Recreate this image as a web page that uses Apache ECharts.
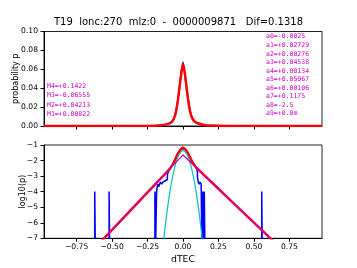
<!DOCTYPE html>
<html><head><meta charset="utf-8">
<script src="https://cdn.jsdelivr.net/npm/echarts@6/dist/echarts.min.js"></script>
<style>html,body{margin:0;padding:0;background:#fff}#c{width:357px;height:268px}</style>
</head><body><div id="c"></div>
<script>
// ---- data ----
const titleText = 'T19  lonc:270  mlz:0  -  0000009871   Dif=0.1318';
const aLabels = ['a0=-0.0025','a1=+0.02729','a2=+0.00276','a3=+0.04538','a4=+0.00134','a5=+0.05067','a6=+0.00106','a7=+0.1175','a8=-2.5','a9=+0.0m'];
const mLabels = ['M4=+0.1422','M3=-0.06555','M2=+0.04213','M1=+0.00822'];
const xTicks = [-0.75,-0.5,-0.25,0,0.25,0.5,0.75];

// model curve x positions (shared)
const xModel = [-0.98,-0.6,-0.3,-0.2,-0.15,-0.1,-0.0875,-0.075,-0.0625,-0.05,-0.0375,-0.025,-0.0125,0,0.0125,0.025,0.0375,0.05,0.0625,0.075,0.0875,0.1,0.15,0.2,0.3,0.6,0.98];
// top panel: model probability (red)
const pModel = [0,0,0.00003,0.00027,0.00082,0.00253,0.00346,0.00511,0.00837,0.01476,0.02566,0.04052,0.05555,0.0656,0.05603,0.04125,0.02651,0.01562,0.00919,0.00588,0.00415,0.00313,0.00113,0.00042,0.00006,0,0];
// bottom panel: log10 of model (red)
const logModel = [-11.09,-7.42,-4.53,-3.57,-3.09,-2.597,-2.461,-2.292,-2.077,-1.831,-1.591,-1.392,-1.255,-1.183,-1.252,-1.385,-1.577,-1.806,-2.037,-2.231,-2.382,-2.504,-2.945,-3.38,-4.25,-6.86,-10.17];

// gaussian part (cyan, log10)
const xGauss = [-0.15,-0.1375,-0.125,-0.1125,-0.1,-0.0875,-0.075,-0.0625,-0.05,-0.0375,-0.025,-0.0125,0,0.0125,0.025,0.0375,0.05,0.0625,0.075,0.0875,0.1,0.1125,0.125,0.1375,0.15];
const logGauss = [-8.32,-7.21,-6.20,-5.28,-4.46,-3.74,-3.11,-2.58,-2.14,-1.81,-1.56,-1.42,-1.37,-1.42,-1.56,-1.81,-2.14,-2.58,-3.11,-3.74,-4.46,-5.28,-6.20,-7.21,-8.32];

// laplace part (magenta, log10)
const xLap = [-0.98,0,0.98];
const logLap = [-11.09,-1.64,-10.17];

// histogram (blue) top panel, probability
const xHist = [-0.98,-0.2,-0.15,-0.1,-0.0875,-0.075,-0.0625,-0.05,-0.0375,-0.025,-0.0125,0,0.0125,0.025,0.0375,0.05,0.0625,0.075,0.0875,0.1,0.15,0.2,0.98];
const pHist = [0,0.0001,0.0004,0.0025,0.00355,0.0050,0.0089,0.0158,0.0263,0.0398,0.0562,0.0676,0.055,0.0398,0.0269,0.0158,0.0095,0.0063,0.0040,0.0028,0.0003,0,0];

// histogram (blue) bottom panel, log10 (empty bins drawn as -8, below axis)
const xHistLog = [-0.98,-0.622,-0.622,-0.618,-0.618,-0.521,-0.521,-0.517,-0.517,
  -0.198,-0.198,-0.194,-0.194,-0.186,-0.186,-0.182,-0.182,-0.177,-0.177,-0.172,-0.172,-0.165,-0.165,-0.158,-0.158,-0.15,-0.15,-0.142,-0.142,-0.133,-0.133,-0.125,-0.125,-0.117,-0.117,-0.11,-0.11,-0.104,-0.104,-0.098,
  -0.0875,-0.075,-0.0625,-0.05,-0.0375,-0.025,-0.0125,0,0.0125,0.025,0.0375,0.05,0.0625,0.075,0.0875,0.097,
  0.102,0.102,0.108,0.108,0.114,0.114,0.12,0.12,0.128,0.128,0.134,0.134,0.14,0.14,0.145,0.145,0.15,0.15,0.155,0.155,
  0.555,0.555,0.559,0.559,0.98];
const logHist = [-8,-8,-3.99,-3.99,-8,-8,-3.99,-3.99,-8,
  -8,-3.99,-3.99,-8,-8,-3.99,-3.99,-3.69,-3.69,-3.52,-3.52,-3.69,-3.69,-3.52,-3.52,-3.39,-3.39,-3.52,-3.52,-3.39,-3.39,-3.3,-3.3,-3.39,-3.39,-3.22,-3.22,-2.9,-2.9,-2.75,-2.6,
  -2.45,-2.30,-2.05,-1.80,-1.58,-1.40,-1.25,-1.17,-1.26,-1.40,-1.57,-1.80,-2.02,-2.20,-2.40,-2.55,
  -2.75,-3.1,-3.1,-3.39,-3.39,-3.52,-3.52,-3.39,-3.39,-3.52,-3.52,-8,-8,-3.99,-3.99,-8,-8,-3.99,-3.99,-8,
  -8,-3.99,-3.99,-8,-8];

const zip = (a,b)=>a.map((v,i)=>[v,b[i]]);
const minus = s => String(s).replace('-', '\u2212');
const FONT = 'DejaVu Sans';

const xBase = {
  type:'value', min:-0.98, max:0.98,
  axisLine:{show:true,onZero:false,lineStyle:{color:'#000',width:1}},
  axisTick:{show:true,length:3.5,customValues:xTicks,lineStyle:{color:'#000'}},
  splitLine:{show:false}
};
const yBase = {
  type:'value',
  axisLine:{show:true,onZero:false,lineStyle:{color:'#000'}},
  axisTick:{show:true,length:3.5,lineStyle:{color:'#000'}},
  splitLine:{show:false},
  nameLocation:'middle',nameRotate:90,nameMoveOverlap:false
};
const option = {
  animation:false,
  title:{text:titleText,left:'center',top:17,itemGap:0,
    textStyle:{fontFamily:FONT,fontSize:10,fontWeight:'normal',color:'#000'},padding:0},
  grid:[
    {left:44,top:31.5,width:278,height:94.5,show:true,borderColor:'#222',borderWidth:1,backgroundColor:'transparent'},
    {left:44,top:145,width:278,height:93.3,show:true,borderColor:'#222',borderWidth:1,backgroundColor:'transparent'}
  ],
  xAxis:[
    Object.assign({},xBase,{gridIndex:0,axisLabel:{show:false}}),
    Object.assign({},xBase,{gridIndex:1,
      axisLabel:{show:true,customValues:xTicks,margin:5,fontFamily:FONT,fontSize:7.6,color:'#000',
        formatter:v=>minus(v.toFixed(2))},
      name:'dTEC',nameLocation:'middle',nameGap:17,nameMoveOverlap:false,
      nameTextStyle:{fontFamily:FONT,fontSize:9.3,color:'#000'}})
  ],
  yAxis:[
    Object.assign({},yBase,{gridIndex:0,min:0,max:0.1,interval:0.02,
      axisLabel:{margin:6,fontFamily:FONT,fontSize:7.6,color:'#000',formatter:v=>v.toFixed(2)},
      name:'probability p',nameGap:24,
      nameTextStyle:{fontFamily:FONT,fontSize:8,color:'#000'}}),
    Object.assign({},yBase,{gridIndex:1,min:-7,max:-1,interval:1,
      axisLabel:{margin:6,fontFamily:FONT,fontSize:7.6,color:'#000',formatter:v=>minus(v)},
      name:'log10(p)',nameGap:17,
      nameTextStyle:{fontFamily:FONT,fontSize:8,color:'#000'}})
  ],
  series:[
    {type:'line',xAxisIndex:0,yAxisIndex:0,data:zip(xHist,pHist),showSymbol:false,smooth:0.2,
      lineStyle:{color:'#0000ff',width:1.5},z:2},
    {type:'line',xAxisIndex:0,yAxisIndex:0,data:zip(xModel,pModel),showSymbol:false,smooth:0.3,
      lineStyle:{color:'#ff0000',width:2.5},z:3},
    {type:'line',xAxisIndex:1,yAxisIndex:1,data:zip(xHistLog,logHist),showSymbol:false,clip:true,
      lineStyle:{color:'#0000ff',width:1.5},z:2},
    {type:'line',xAxisIndex:1,yAxisIndex:1,data:zip(xModel,logModel),showSymbol:false,smooth:0.2,clip:true,
      lineStyle:{color:'#ff0000',width:2.5},z:3},
    {type:'line',xAxisIndex:1,yAxisIndex:1,data:zip(xGauss,logGauss),showSymbol:false,smooth:0.3,clip:true,
      lineStyle:{color:'#00bfbf',width:1.2},z:4},
    {type:'line',xAxisIndex:1,yAxisIndex:1,data:zip(xLap,logLap),showSymbol:false,clip:true,
      lineStyle:{color:'#bf00bf',width:1.2},z:5}
  ],
  graphic:[]
};
aLabels.forEach((t,i)=>option.graphic.push({type:'text',left:266,top:37.3+i*8.52-4,z:10,
  style:{text:t,fontFamily:'DejaVu Sans Mono',fontSize:6.5,fill:'#cc00cc'}}));
mLabels.forEach((t,i)=>option.graphic.push({type:'text',left:47,top:86.5+i*9.43-4,z:10,
  style:{text:t,fontFamily:'DejaVu Sans Mono',fontSize:6.5,fill:'#cc00cc'}}));

const chart = echarts.init(document.getElementById('c'),null,{renderer:'canvas'});
chart.setOption(option);
</script></body></html>
